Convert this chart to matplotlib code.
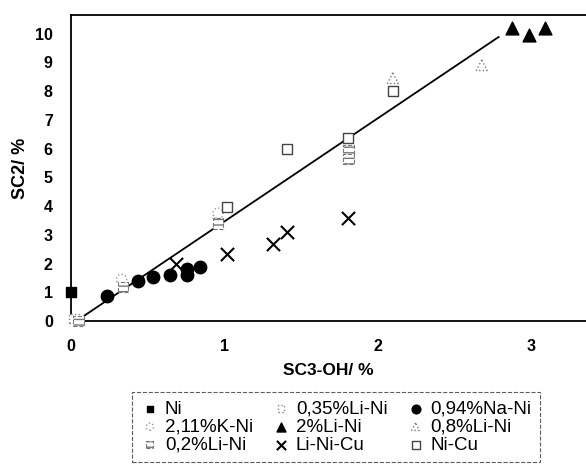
import matplotlib.pyplot as plt

plt.rcParams['font.family'] = ['Liberation Sans', 'DejaVu Sans']

# data (SC3-OH %, SC2 %)
ni_x = [0.0]
ni_y = [1.0]
li035_x = [0.02]
li035_y = [0.1]
na094_x = [0.235, 0.44, 0.535, 0.645, 0.76, 0.76, 0.84]
na094_y = [0.87, 1.39, 1.53, 1.6, 1.6, 1.8, 1.9]
k211_x = [0.33, 0.96]
k211_y = [1.45, 3.75]
li2_x = [2.88, 2.99, 3.09]
li2_y = [10.2, 9.95, 10.2]
li08_x = [2.1, 2.68]
li08_y = [8.45, 8.9]
li02_x = [0.05, 0.34, 0.96, 1.81, 1.81]
li02_y = [0.0, 1.2, 3.4, 5.95, 5.65]
linicu_x = [0.685, 1.02, 1.32, 1.41, 1.81]
linicu_y = [2.0, 2.35, 2.7, 3.1, 3.6]
nicu_x = [1.02, 1.41, 1.81, 2.1]
nicu_y = [3.97, 6.0, 6.37, 8.0]

fit_x = [0.09, 2.79]
fit_y = [0.2, 9.88]

fig = plt.figure(figsize=(5.86, 4.73), dpi=100)
ax = fig.add_axes([0.121, 0.321, 0.879, 0.647])

ax.plot(fit_x, fit_y, color='black', lw=1.3, zorder=1)

h_ni = ax.scatter(ni_x, ni_y, marker='s', s=45, c='black', zorder=3, clip_on=False)
h_li035 = ax.scatter(li035_x, li035_y, marker='s', s=45, facecolors='white',
                     edgecolors='#888888', linestyles='dotted', lw=1, zorder=3, clip_on=False)
h_na = ax.scatter(na094_x, na094_y, marker='o', s=80, c='black', zorder=3)
h_k = ax.scatter(k211_x, k211_y, marker='o', s=55, facecolors='white',
                 edgecolors='#999999', linestyles='dotted', lw=1, zorder=3)
h_li2 = ax.scatter(li2_x, li2_y, marker='^', s=85, c='black', zorder=3, clip_on=False)
h_li08 = ax.scatter(li08_x, li08_y, marker='^', s=60, facecolors='white',
                    edgecolors='#777777', linestyles='dotted', lw=1, zorder=3)
h_li02 = ax.scatter(li02_x, li02_y, marker='s', s=55, facecolors='white',
                    edgecolors='#777777', hatch='---', linestyles='dashed', lw=0.8,
                    zorder=3, clip_on=False)
h_cu = ax.scatter(linicu_x, linicu_y, marker='x', s=90, c='black', lw=1.5, zorder=3)
h_nicu = ax.scatter(nicu_x, nicu_y, marker='s', s=55, facecolors='white',
                    edgecolors='#444444', lw=1, zorder=3)

ax.set_xlim(0, 3.36)
ax.set_ylim(0, 10.64)
ax.set_xticks([0, 1, 2, 3])
ax.set_yticks(range(0, 11))
ax.spines['right'].set_visible(False)
for s in ['left', 'bottom', 'top']:
    ax.spines[s].set_linewidth(1.3)
ax.tick_params(length=0, labelsize=11.5, pad=13)
for lab in ax.get_xticklabels() + ax.get_yticklabels():
    lab.set_fontweight('bold')

ax.set_xlabel('SC3-OH/ %', fontsize=12.5, fontweight='bold', labelpad=6)
ax.set_ylabel('SC2/ %', fontsize=13, fontweight='bold', labelpad=4)

handles = [h_ni, h_k, h_li02, h_li035, h_li2, h_cu, h_na, h_li08, h_nicu]
labels = ['Ni', '2,11%K-Ni', '0,2%Li-Ni', '0,35%Li-Ni', '2%Li-Ni', 'Li-Ni-Cu',
          '0,94%Na-Ni', '0,8%Li-Ni', 'Ni-Cu']
leg = fig.legend(handles, labels, ncol=3, loc='upper left',
                 bbox_to_anchor=(132 / 586, 0, 408 / 586, 1 - 392 / 473),
                 mode='expand', fontsize=13.5, frameon=True, fancybox=False,
                 borderaxespad=0, handletextpad=0.3, columnspacing=0.4,
                 labelspacing=0.05, borderpad=0.45, handlelength=1.0,
                 markerscale=0.7)
leg.get_frame().set_edgecolor('#333333')
leg.get_frame().set_linestyle('--')
leg.get_frame().set_linewidth(0.8)

fig.savefig('out.png', dpi=100)
